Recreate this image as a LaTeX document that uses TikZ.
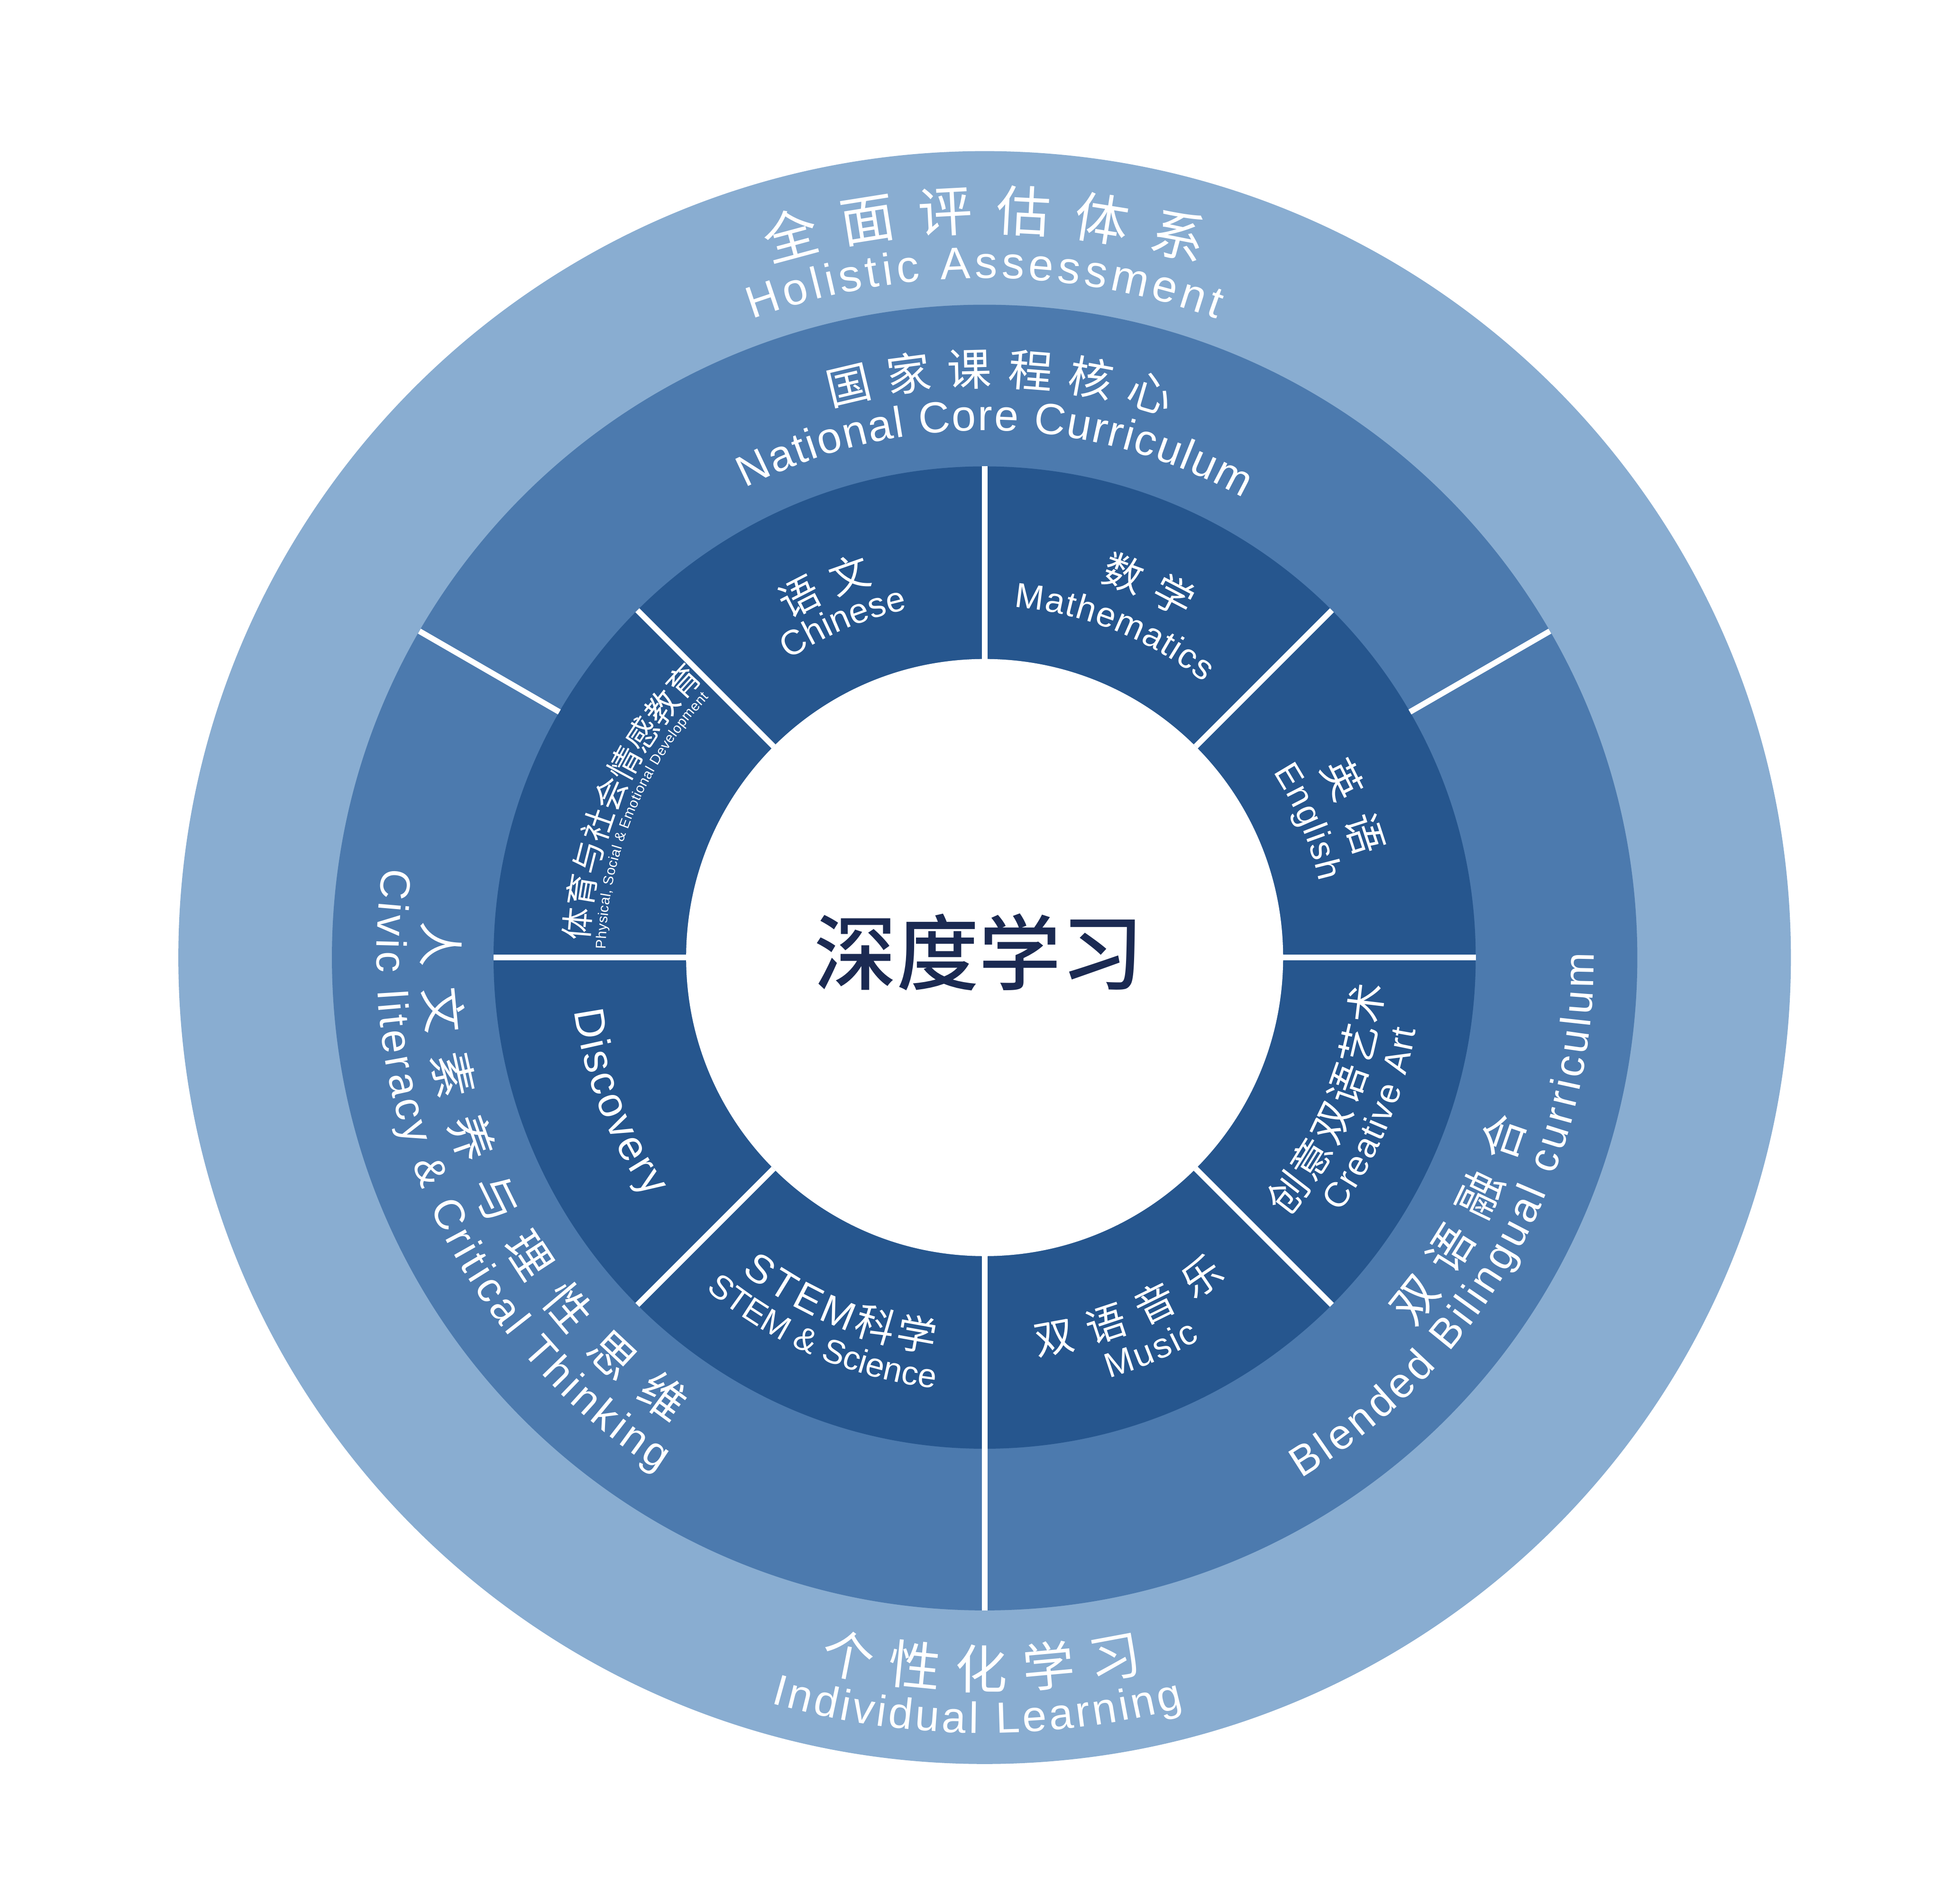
\documentclass[tikz,border=0pt]{standalone}
\usepackage{fontspec}
\setmainfont{Liberation Sans}
\newfontfamily\cjk{Noto Sans CJK SC}
\newfontfamily\cjkmed{Noto Sans CJK SC Medium}
\usetikzlibrary{decorations.text}
\definecolor{ringOuter}{HTML}{89ADD1}
\definecolor{ringMiddle}{HTML}{4C7AAE}
\definecolor{ringInner}{HTML}{26568E}
\definecolor{coreNavy}{HTML}{1B2A52}
\newcommand{\fsz}[1]{\fontsize{#1}{#1}\selectfont}
% curved label: radius, start angle, end angle
\newcommand{\bend}[3]{(#2:#1) arc[start angle=#2, end angle=#3, radius=#1]}

\begin{document}
\begin{tikzpicture}[
    arctext/.style 2 args={decorate, decoration={text along path,
        text align=fit to path, text color=white, text={|#1|#2}}},
    sep/.style={draw=white, line width=1.3pt},
  ]
    \useasboundingbox (-7.95,-7.64) rectangle (7.73,7.73);

    % rings
    \fill[ringOuter] (0,0) circle (6.51);
    \fill[ringMiddle] (0,0) circle (5.27);
    \fill[ringInner] (0,0) circle (3.965);
    \fill[white] (0,0) circle (2.41);

    \foreach \a in {30,150,270}
      \draw[sep] (\a:3.965) -- (\a:5.27);
    \foreach \a in {0,45,...,315}
      \draw[sep] (\a:2.41) -- (\a:3.965);

    \node[font=\cjkmed\fsz{18.9pt}, text=coreNavy, inner sep=0pt]
      (core) at (-0.045,0.043) {深度学习};

    % outer ring
    \path[arctext={\cjk\fsz{12.5pt}}{全面评估体系}] \bend{5.87}{107.2}{72.8};
    \path[arctext={\fsz{10.3pt}}{Holistic Assessment}] \bend{5.485}{110}{70};
    \path[arctext={\cjk\fsz{12pt}}{个性化学习}] \bend{5.90}{256.9}{282.6};
    \path[arctext={\fsz{10pt}}{Individual Learning}] \bend{6.26}{254}{284.9};

    % middle ring
    \path[arctext={\cjk\fsz{10.2pt}}{国家课程核心}] \bend{4.62}{105.6}{71.4};
    \path[arctext={\fsz{10pt}}{National Core Curriculum}] \bend{4.255}{117}{60.6};
    \path[arctext={\cjk\fsz{10.5pt}}{人文素养与理性思维}] \bend{4.53}{176.3}{236.1};
    \path[arctext={\fsz{9.7pt}}{Civic literacy {\&} Critical Thinking}] \bend{4.91}{171.5}{237.6};
    \path[arctext={\cjk\fsz{10.5pt}}{双语融合}] \bend{4.57}{319.25}{343.2};
    \path[arctext={\fsz{9.7pt}}{Blended Bilingual curriculum}] \bend{4.92}{301.3}{360.4};

    % inner ring
    \path[arctext={\cjk\fsz{9.2pt}}{语文}] \bend{3.155}{120.1}{106.5};
    \path[arctext={\fsz{8pt}}{Chinese}] \bend{2.88}{123.3}{102.5};
    \path[arctext={\cjk\fsz{9.2pt}}{数学}] \bend{3.175}{73.04}{59.47};
    \path[arctext={\fsz{8pt}}{Mathematics}] \bend{2.84}{85.2}{51.5};
    \path[arctext={\cjk\fsz{9.2pt}}{英语}] \bend{3.107}{29.48}{15.08};
    \path[arctext={\fsz{8pt}}{English}] \bend{2.77}{32.8}{12.75};
    \path[arctext={\cjk\fsz{7.5pt}}{体育与社会情感教育}] \bend{3.20}{177.6}{136.5};
    \path[arctext={\fsz{3.25pt}}{Physical, Social {\&} Emotional Development}] \bend{3.06}{178.7}{136.6};
    \path[arctext={\fsz{9.7pt}}{Discovery}] \bend{3.34}{187.4}{215.5};
    \path[arctext={\fsz{9.2pt}}{STEM|\cjk\fsz{9.2pt}|科学}] \bend{3.21}{232.3}{262.7};
    \path[arctext={\fsz{7.7pt}}{STEM {\&} Science}] \bend{3.50}{229.95}{263.3};
    \path[arctext={\cjk\fsz{9.2pt}}{双语音乐}] \bend{3.235}{277.5}{307.1};
    \path[arctext={\fsz{8pt}}{Music}] \bend{3.54}{286.5}{299.4};
    \path[arctext={\cjk\fsz{9.2pt}}{创意双语艺术}] \bend{3.22}{319.3}{356.1};
    \path[arctext={\fsz{8pt}}{Creative Art}] \bend{3.53}{324.4}{350.5};
\end{tikzpicture}
\end{document}
